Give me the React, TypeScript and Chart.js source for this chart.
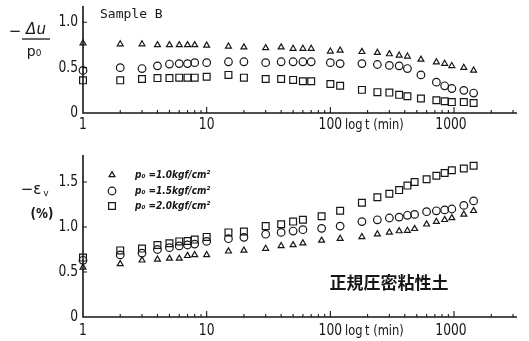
import React, { useEffect, useRef } from 'react';
import { Chart, registerables } from 'chart.js';

Chart.register(...registerables);

// ---------- data (time in minutes, log scale) ----------
const topTimes = [1, 2, 3, 4, 5, 6, 7, 8, 10, 15, 20, 30, 40, 50, 60, 70, 100, 120, 180, 240, 300, 360, 420, 540, 720, 840, 960, 1200, 1440];
// -Δu / p0
const topP10 = [0.77, 0.76, 0.76, 0.75, 0.75, 0.75, 0.75, 0.75, 0.745, 0.735, 0.725, 0.717, 0.725, 0.71, 0.71, 0.71, 0.68, 0.69, 0.675, 0.665, 0.65, 0.635, 0.625, 0.59, 0.56, 0.545, 0.52, 0.5, 0.47];
const topP15 = [0.47, 0.5, 0.49, 0.52, 0.54, 0.545, 0.545, 0.555, 0.555, 0.565, 0.565, 0.555, 0.565, 0.565, 0.565, 0.565, 0.555, 0.545, 0.545, 0.535, 0.525, 0.52, 0.49, 0.42, 0.34, 0.3, 0.27, 0.25, 0.22];
const topP20 = [0.36, 0.36, 0.375, 0.385, 0.385, 0.39, 0.39, 0.39, 0.4, 0.42, 0.39, 0.375, 0.375, 0.365, 0.35, 0.35, 0.32, 0.3, 0.255, 0.23, 0.225, 0.2, 0.185, 0.16, 0.14, 0.13, 0.12, 0.12, 0.11];

const bottomTimes = [1, 2, 3, 4, 5, 6, 7, 8, 10, 15, 20, 30, 40, 50, 60, 85, 120, 180, 240, 300, 360, 420, 480, 600, 720, 840, 960, 1200, 1440];
// -εv (%)
const botP10 = [0.55, 0.59, 0.63, 0.64, 0.65, 0.65, 0.68, 0.69, 0.69, 0.73, 0.74, 0.76, 0.79, 0.8, 0.82, 0.85, 0.87, 0.89, 0.92, 0.94, 0.955, 0.96, 0.98, 1.03, 1.06, 1.08, 1.1, 1.14, 1.18];
const botP15 = [0.63, 0.69, 0.71, 0.75, 0.77, 0.79, 0.8, 0.81, 0.84, 0.87, 0.885, 0.92, 0.94, 0.955, 0.97, 0.985, 1.01, 1.06, 1.08, 1.1, 1.11, 1.13, 1.14, 1.17, 1.18, 1.19, 1.2, 1.24, 1.29];
const botP20 = [0.66, 0.74, 0.76, 0.8, 0.82, 0.84, 0.845, 0.86, 0.89, 0.94, 0.95, 1.01, 1.03, 1.06, 1.08, 1.12, 1.18, 1.27, 1.33, 1.37, 1.41, 1.46, 1.5, 1.53, 1.57, 1.6, 1.63, 1.65, 1.68];

const xTickLabels = [1, 10, 100, 1000];
const topYTicks = [0, 0.5, 1.0];
const bottomYTicks = [0, 0.5, 1.0, 1.5];
const legendLabels = ['p₀ =1.0kgf/cm²', 'p₀ =1.5kgf/cm²', 'p₀ =2.0kgf/cm²'];
const seriesStyles = ['triangle', 'circle', 'rect'];

const INK = '#161616';
const NUM_FONT = '15px "DejaVu Sans"';

function txt(ctx: CanvasRenderingContext2D, s: string, x: number, y: number, font: string, align: CanvasTextAlign = 'center', sx = 1) {
  ctx.save();
  ctx.font = font;
  ctx.fillStyle = INK;
  ctx.textAlign = align;
  ctx.textBaseline = 'middle';
  ctx.translate(x, y);
  ctx.scale(sx, 1);
  ctx.fillText(s, 0, 0);
  ctx.restore();
}

function marker(ctx: CanvasRenderingContext2D, style: string, x: number, y: number) {
  ctx.save();
  ctx.strokeStyle = INK;
  ctx.lineWidth = 1.2;
  ctx.beginPath();
  if (style === 'triangle') {
    const r = 3.4;
    let a = 0;
    ctx.moveTo(x + Math.sin(a) * r, y - Math.cos(a) * r);
    a += (2 * Math.PI) / 3;
    ctx.lineTo(x + Math.sin(a) * r, y - Math.cos(a) * r);
    a += (2 * Math.PI) / 3;
    ctx.lineTo(x + Math.sin(a) * r, y - Math.cos(a) * r);
    ctx.closePath();
  } else if (style === 'circle') {
    ctx.arc(x, y, 3.8, 0, Math.PI * 2);
  } else {
    const s = 3.4;
    ctx.rect(x - s, y - s, 2 * s, 2 * s);
  }
  ctx.stroke();
  ctx.restore();
}

function axesPlugin(spec: { yTicks: number[]; xLabelY: number; extra: (ctx: CanvasRenderingContext2D) => void }) {
  return {
    id: 'customAxes',
    afterDraw(chart: any) {
      const ctx: CanvasRenderingContext2D = chart.ctx;
      const xs = chart.scales.x;
      const ys = chart.scales.y;
      const { left, right, top, bottom } = chart.chartArea;
      ctx.save();
      ctx.strokeStyle = INK;
      ctx.lineWidth = 1.6;
      ctx.beginPath();
      ctx.moveTo(left, top);
      ctx.lineTo(left, bottom);
      ctx.lineTo(right, bottom);
      ctx.stroke();

      ctx.lineWidth = 1.1;
      ctx.beginPath();
      for (const v of spec.yTicks) {
        if (v <= 0) continue;
        const py = ys.getPixelForValue(v);
        ctx.moveTo(left, py);
        ctx.lineTo(left + 4, py);
      }
      for (let d = 0; d < 4; d++) {
        for (let m = 1; m <= 9; m++) {
          const v = m * Math.pow(10, d);
          if (v <= 1 || v > xs.max) continue;
          const px = xs.getPixelForValue(v);
          const len = m === 1 ? 6 : 3;
          ctx.moveTo(px, bottom);
          ctx.lineTo(px, bottom - len);
        }
      }
      ctx.stroke();
      ctx.restore();

      for (const v of spec.yTicks) {
        const py = ys.getPixelForValue(v);
        const label = v === 0 ? '0' : v.toFixed(1);
        txt(ctx, label, left - 5, py, NUM_FONT, 'right', 0.82);
      }
      for (const v of xTickLabels) {
        const px = xs.getPixelForValue(v);
        txt(ctx, String(v), px - (v === 1000 ? 3 : 0), spec.xLabelY, NUM_FONT, 'center', 0.82);
      }
      txt(ctx, 'log', 345, spec.xLabelY, '14px "DejaVu Sans"', 'left', 0.82);
      txt(ctx, 't (min)', 365, spec.xLabelY, '14px "DejaVu Sans"', 'left', 0.82);
      spec.extra(ctx);
    },
  };
}

function datasetsFor(times: number[], series: number[][]) {
  const radii = [3.4, 3.8, 4.8];
  return series.map((vals, i) => ({
    label: legendLabels[i],
    data: times.map((t, j) => ({ x: t, y: vals[j] })),
    pointStyle: seriesStyles[i] as any,
    radius: radii[i],
    pointRadius: radii[i],
    borderColor: INK,
    backgroundColor: 'rgba(0,0,0,0)',
    borderWidth: 1.2,
    showLine: false,
    clip: false as any,
  }));
}

function makeChart(canvas: HTMLCanvasElement, times: number[], series: number[][], yMax: number, padding: any, plugin: any) {
  return new Chart(canvas, {
    type: 'scatter',
    data: { datasets: datasetsFor(times, series) as any },
    options: {
      responsive: false,
      animation: false,
      devicePixelRatio: 1,
      events: [],
      layout: { padding },
      plugins: { legend: { display: false }, tooltip: { enabled: false } },
      scales: {
        x: { type: 'logarithmic', min: 1, max: 3230, display: false },
        y: { type: 'linear', min: 0, max: yMax, display: false },
      },
    },
    plugins: [plugin],
  });
}

export default function App() {
  const topRef = useRef<HTMLCanvasElement>(null);
  const botRef = useRef<HTMLCanvasElement>(null);

  useEffect(() => {
    const topPlugin = axesPlugin({
      yTicks: topYTicks,
      xLabelY: 125,
      extra: (ctx) => {
        txt(ctx, 'Sample B', 100, 15, '13px "DejaVu Sans Mono"', 'left', 1);
        txt(ctx, '−', 15, 32, '15px "DejaVu Sans"', 'center', 1);
        txt(ctx, 'Δu', 36, 30, 'italic 15px "DejaVu Sans"', 'center', 1);
        ctx.save();
        ctx.strokeStyle = INK;
        ctx.lineWidth = 1.3;
        ctx.beginPath();
        ctx.moveTo(22, 39);
        ctx.lineTo(50, 39);
        ctx.stroke();
        ctx.restore();
        txt(ctx, 'p₀', 34, 52, '14px "DejaVu Sans"', 'center', 1);
      },
    });
    const botPlugin = axesPlugin({
      yTicks: bottomYTicks,
      xLabelY: 331,
      extra: (ctx) => {
        txt(ctx, '−ε', 31, 190, '15px "DejaVu Sans"', 'center', 1);
        txt(ctx, 'v', 46, 194, '9px "DejaVu Sans"', 'center', 1);
        txt(ctx, '(%)', 42, 214, 'bold 14px "DejaVu Sans"', 'center', 0.85);
        const rows = [175, 191, 206];
        rows.forEach((y, i) => {
          marker(ctx, seriesStyles[i], 112, y);
          txt(ctx, legendLabels[i], 135, y, 'italic bold 10px "DejaVu Sans"', 'left', 0.9);
        });
        txt(ctx, '正規圧密粘性土', 389, 283, 'bold 17px "Noto Sans CJK JP"', 'center', 1);
      },
    });
    const c1 = makeChart(topRef.current!, topTimes, [topP10, topP15, topP20], 1.18, { left: 83, right: 12, top: 4, bottom: 228 }, topPlugin);
    const c2 = makeChart(botRef.current!, bottomTimes, [botP10, botP15, botP20], 1.8, { left: 83, right: 12, top: 155, bottom: 24 }, botPlugin);
    return () => {
      c1.destroy();
      c2.destroy();
    };
  }, []);

  const cs: React.CSSProperties = { position: 'absolute', left: 0, top: 0, width: 529, height: 341 };
  return (
    <div style={{ position: 'fixed', left: 0, top: 0, width: 529, height: 341, background: '#fff', overflow: 'hidden' }}>
      <canvas ref={topRef} width={529} height={341} style={cs} />
      <canvas ref={botRef} width={529} height={341} style={cs} />
    </div>
  );
}
